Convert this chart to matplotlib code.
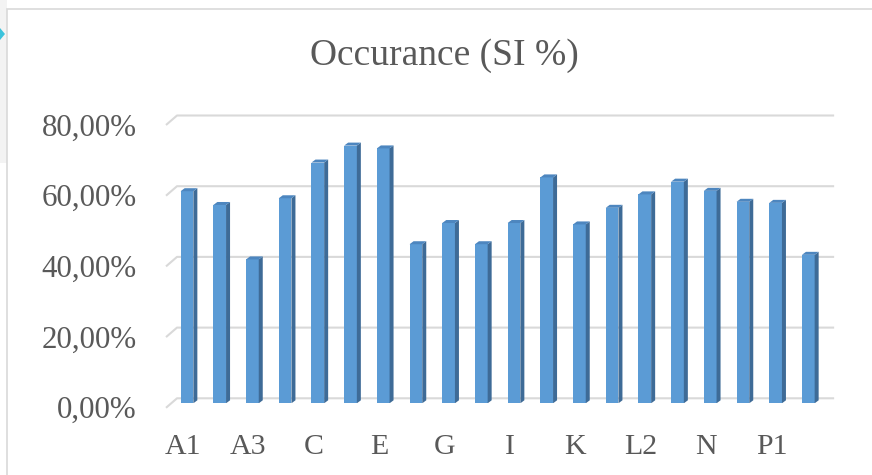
import matplotlib
matplotlib.use("Agg")
import matplotlib.pyplot as plt
from matplotlib.patches import Polygon, Rectangle

# data
categories = ["A1", "A2", "A3", "B", "C", "D", "E", "F", "G", "H",
              "I", "J", "K", "L1", "L2", "M", "N", "O", "P1", "P2"]
occurance = [60.0, 56.1, 40.7, 58.0, 68.1, 72.9, 72.1, 45.0, 51.0, 45.0,
             51.0, 63.9, 50.6, 55.3, 59.1, 62.7, 60.1, 57.0, 56.7, 42.0]
y_ticks = [0, 20, 40, 60, 80]
y_tick_labels = ["0,00%", "20,00%", "40,00%", "60,00%", "80,00%"]
title = "Occurance (SI %)"

W, H = 872, 475
FRONT = "#5B9BD5"
SIDE = "#3E6B97"
TOP = "#4D86BF"
GRID = "#D9D9D9"
TXT = "#595959"
FONT = "Liberation Serif"

fig = plt.figure(figsize=(W / 100, H / 100), dpi=100)
fig.patch.set_facecolor("white")

# plot area (bar plane), placed in pixels
x0, x1 = -0.8, 20.0
px_per_bar = 32.7
left = 187 + x0 * px_per_bar
right = 187 + x1 * px_per_bar
y_base = H - 403.3
px_per_pct = 3.535
y0, y1 = 0, 85
ax = fig.add_axes([left / W, y_base / H, (right - left) / W,
                   (y1 - y0) * px_per_pct / H])
ax.set_xlim(x0, x1)
ax.set_ylim(y0, y1)
ax.axis("off")

# pixel -> data unit helpers
ux = 1 / px_per_bar
uy = 1 / px_per_pct

# back wall gridlines with the slanted floor edge on the left
back_dy = 5 * uy
for t in y_ticks:
    yb = t + back_dy
    ax.plot([-0.642, -0.306, 19.79], [yb - 9.5 * uy, yb, yb],
            color=GRID, lw=1.5, solid_capstyle="butt", zorder=1,
            clip_on=False)

# bars with a bit of depth
bw = 12.7 / px_per_bar
ddx, ddy = 4 * ux, 3 * uy
xs = list(range(len(categories)))
ax.bar(xs, occurance, width=bw, color=FRONT, zorder=3)
for x, v in zip(xs, occurance):
    xl, xr = x - bw / 2, x + bw / 2
    ax.add_patch(Polygon([(xr, 0), (xr, v), (xr + ddx, v + ddy),
                          (xr + ddx, ddy)], closed=True, color=SIDE,
                         lw=0, zorder=3))
    ax.add_patch(Polygon([(xl, v), (xr, v), (xr + ddx, v + ddy),
                          (xl + ddx, v + ddy)], closed=True, color=TOP,
                         lw=0, zorder=3))

# y tick labels on the front plane
for t, lab in zip(y_ticks, y_tick_labels):
    ax.text((137 - 187) * ux, t - 15 * uy, lab, ha="right", va="baseline",
            fontsize=22.3, color=TXT, family=FONT, clip_on=False)

# every second category label
for x, lab in zip(xs[::2], categories[::2]):
    ax.text(x - 4.2 * ux, -(454 - 403.3) * uy, lab, ha="center",
            va="baseline", fontsize=21.5, color=TXT, family=FONT,
            clip_on=False)

fig.text(444 / W, 1 - 65 / H, title, ha="center", va="baseline",
         fontsize=27, color=TXT, family=FONT)

# chart border, grey strip and cyan marker at the left edge
fig.add_artist(Rectangle((0, 1 - 163 / H), 7 / W, 163 / H,
                         transform=fig.transFigure, color="#F3F3F3",
                         lw=0, zorder=0))
fig.add_artist(Polygon([(0, 1 - 28 / H), (5 / W, 1 - 34 / H),
                        (0, 1 - 40 / H)], closed=True,
                       transform=fig.transFigure, color="#3CC3DC",
                       lw=0, zorder=1))
fig.add_artist(Rectangle((7 / W, -0.1), 1.2, 1 - 9 / H + 0.1,
                         transform=fig.transFigure, fill=False,
                         edgecolor="#D9D9D9", lw=1.2, zorder=5))

fig.savefig("out.png", dpi=100)
